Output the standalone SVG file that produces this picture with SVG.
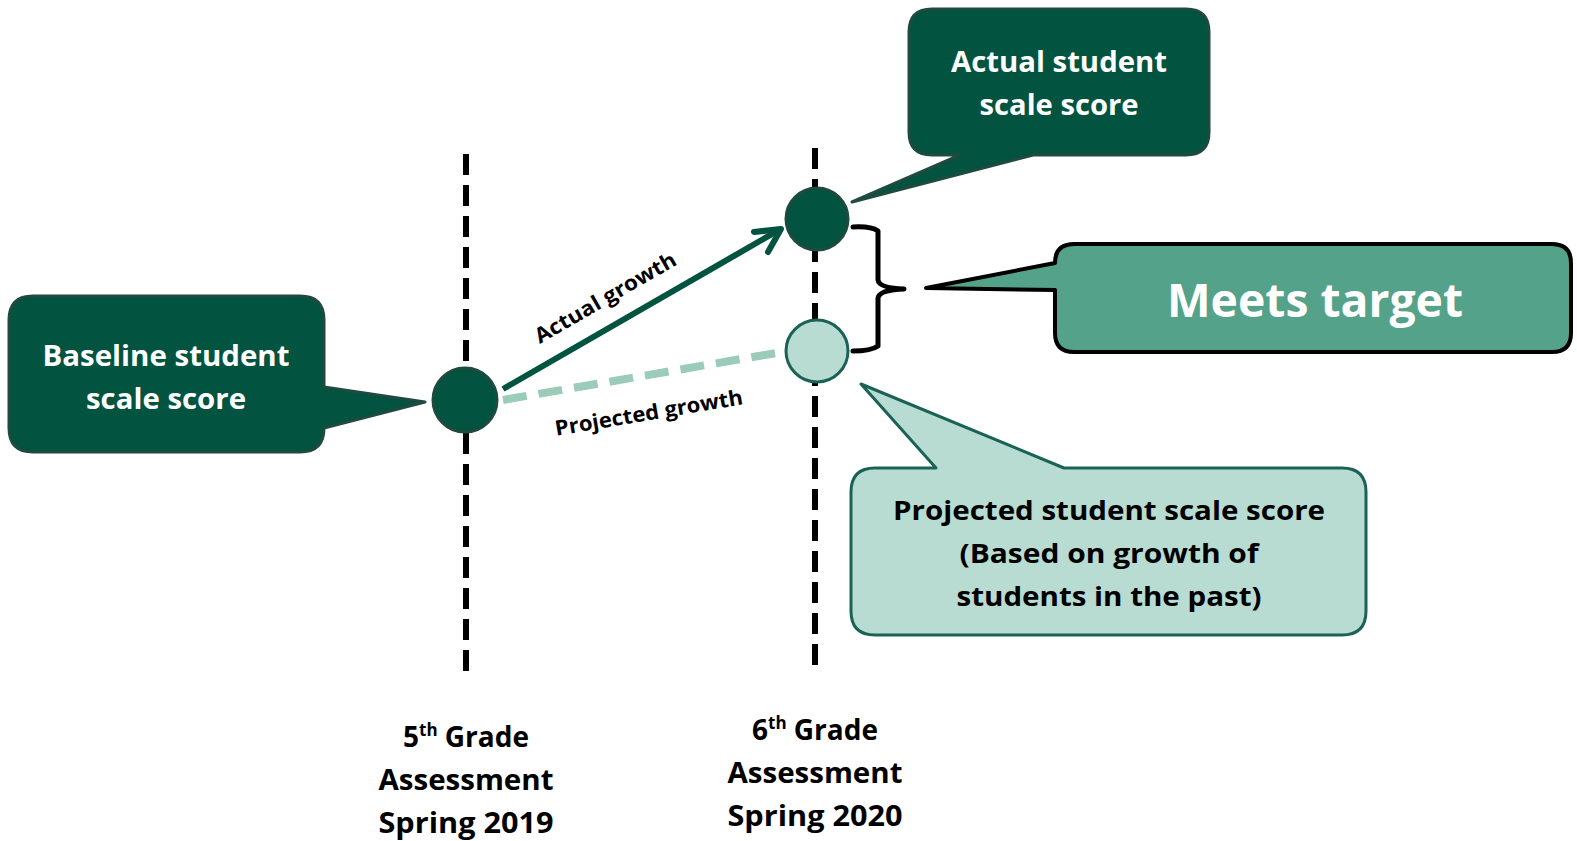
<svg xmlns="http://www.w3.org/2000/svg" width="1577" height="841" viewBox="0 0 1577 841">
<style>
text{font-family:"Open Sans",Lato,"Liberation Sans",sans-serif;font-weight:bold;text-anchor:middle}
.w{fill:#ffffff}
.k{fill:#000000}
.dark{fill:#02533F;stroke:#1E4A3F;stroke-width:3;stroke-linejoin:round}
.light{fill:#B8DCD2;stroke:#1B6256;stroke-width:3;stroke-linejoin:round}
.meet{fill:#55A28B;stroke:#000;stroke-width:4;stroke-linejoin:round}
.axis{stroke:#000;stroke-width:6;stroke-dasharray:21 10;fill:none}
</style>
<rect width="1577" height="841" fill="#fff"/>
<g id="axes">
<line class="axis" x1="466" y1="154" x2="466" y2="680"/>
<line class="axis" x1="815" y1="148" x2="815" y2="673"/>
</g>
<g id="connectors">
<line x1="503" y1="400" x2="782" y2="352" stroke="#9BCBB9" stroke-width="8" stroke-dasharray="24 12"/>
<line x1="503" y1="389" x2="779" y2="230" stroke="#02533F" stroke-width="6"/>
<polyline points="754,232 781,229 768,252" fill="none" stroke="#02533F" stroke-width="6" stroke-linecap="round" stroke-linejoin="round"/>
<text transform="translate(609,304) rotate(-30)" font-size="21" class="k" textLength="160" lengthAdjust="spacingAndGlyphs">Actual growth</text>
<text transform="translate(650,420) rotate(-9.6)" font-size="21" class="k" textLength="190" lengthAdjust="spacingAndGlyphs">Projected growth</text>
<path d="M853,227 Q871,226 878,231 L878,280 Q879,288 904,289 Q879,290 878,298 L878,346 Q871,351 853,351" fill="none" stroke="#000" stroke-width="5" stroke-linecap="round" stroke-linejoin="round"/>
</g>
<g id="baseline-point"><circle cx="465" cy="400" r="32" class="dark"/></g>
<g id="actual-point"><circle cx="817" cy="219" r="31" class="dark"/></g>
<g id="projected-point"><circle cx="817" cy="351" r="31" class="light"/></g>
<g id="baseline-callout">
<path class="dark" d="M33,296 H300 Q324,296 324,320 V387 L425,402 L324,428 V428 Q324,452 300,452 H33 Q9,452 9,428 V320 Q9,296 33,296 Z"/>
<text class="w" x="166" y="366" font-size="29" textLength="247" lengthAdjust="spacingAndGlyphs">Baseline student</text>
<text class="w" x="166" y="409" font-size="29" textLength="160" lengthAdjust="spacingAndGlyphs">scale score</text>
</g>
<g id="actual-callout">
<path class="dark" d="M932,9 H1186 Q1209,9 1209,32 V132 Q1209,155 1186,155 H1033 L852,202 L960,155 H932 Q909,155 909,132 V32 Q909,9 932,9 Z"/>
<text class="w" x="1059" y="72" font-size="29" textLength="216" lengthAdjust="spacingAndGlyphs">Actual student</text>
<text class="w" x="1059" y="115" font-size="29" textLength="159" lengthAdjust="spacingAndGlyphs">scale score</text>
</g>
<g id="meets-callout">
<path class="meet" d="M1074,244 H1552 Q1571,244 1571,263 V333 Q1571,352 1552,352 H1074 Q1055,352 1055,333 V290 L926,288 L1055,263 Q1055,244 1074,244 Z"/>
<text class="w" x="1315" y="317" font-size="46" textLength="296" lengthAdjust="spacingAndGlyphs">Meets target</text>
</g>
<g id="projected-callout">
<path class="light" d="M875,468 H936 L861,384 L1064,468 H1342 Q1366,468 1366,492 V611 Q1366,635 1342,635 H875 Q851,635 851,611 V492 Q851,468 875,468 Z"/>
<text class="k" x="1109" y="520" font-size="27" textLength="432" lengthAdjust="spacingAndGlyphs">Projected student scale score</text>
<text class="k" x="1109" y="563" font-size="27" textLength="299" lengthAdjust="spacingAndGlyphs">(Based on growth of</text>
<text class="k" x="1109" y="606" font-size="27" textLength="305" lengthAdjust="spacingAndGlyphs">students in the past)</text>
</g>
<g id="label-5th">
<text class="k" x="466" y="747" font-size="28">5<tspan font-size="17" dy="-11">th</tspan><tspan dy="11"> Grade</tspan></text>
<text class="k" x="466" y="790" font-size="28" textLength="175" lengthAdjust="spacingAndGlyphs">Assessment</text>
<text class="k" x="466" y="833" font-size="28" textLength="175" lengthAdjust="spacingAndGlyphs">Spring 2019</text>
</g>
<g id="label-6th">
<text class="k" x="815" y="740" font-size="28">6<tspan font-size="17" dy="-11">th</tspan><tspan dy="11"> Grade</tspan></text>
<text class="k" x="815" y="783" font-size="28" textLength="175" lengthAdjust="spacingAndGlyphs">Assessment</text>
<text class="k" x="815" y="826" font-size="28" textLength="175" lengthAdjust="spacingAndGlyphs">Spring 2020</text>
</g>
</svg>
